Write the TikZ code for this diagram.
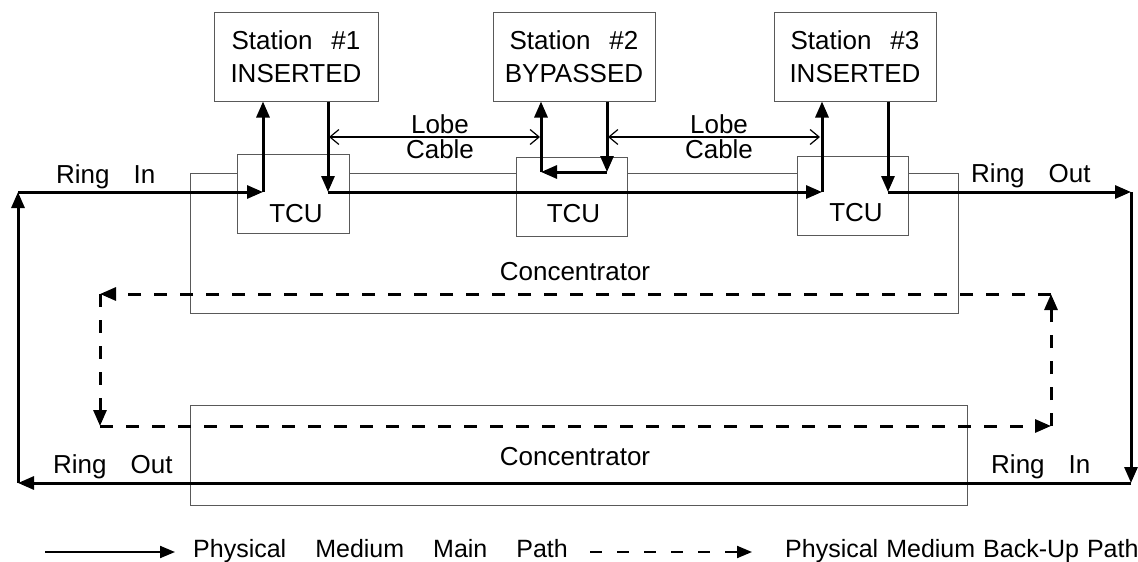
\documentclass[tikz,border=0pt]{standalone}
\usepackage{fontspec}
\setmainfont{Liberation Sans}
\usetikzlibrary{arrows.meta}
\definecolor{edgegray}{gray}{0.35}
\begin{document}
\begin{tikzpicture}[x=1pt,y=-1pt,
  unit/.style={draw=edgegray, line width=1pt, fill=white, inner sep=0pt},
  hub/.style={draw=edgegray, line width=1pt, inner sep=0pt},
  txt/.style={font=\fontsize{26}{33}\selectfont, inner sep=0pt},
  legtxt/.style={font=\fontsize{25}{30}\selectfont, inner sep=0pt, anchor=base west},
  mainpath/.style={line width=3pt, -{Triangle[length=16pt,width=13pt]}},
  backup/.style={line width=3pt, dash pattern=on 13pt off 13pt, -{Triangle[length=16pt,width=13pt]}},
  lobe/.style={line width=1.2pt, {Straight Barb[length=9pt,width=15pt]}-{Straight Barb[length=9pt,width=15pt]}},
]
\useasboundingbox (0,0) rectangle (1138,562);

% concentrators
\node[hub, minimum width=768pt, minimum height=140pt] (conc1) at (574,243) {};
\node[hub, minimum width=777pt, minimum height=100pt] (conc2) at (578.5,455) {};
\node[txt, anchor=base] (conc1t) at (575,280) {Concentrator};
\node[txt, anchor=base] (conc2t) at (575,465) {Concentrator};

% trunk coupling units
\node[unit, minimum width=112pt, minimum height=79pt] (tcu1) at (293,193.5) {};
\node[unit, minimum width=111pt, minimum height=79pt] (tcu2) at (571.5,196.5) {};
\node[unit, minimum width=111pt, minimum height=79pt] (tcu3) at (852.5,195.5) {};
\node[txt, anchor=base] (tcu1t) at (296,222) {TCU};
\node[txt, anchor=base] (tcu2t) at (573.5,222) {TCU};
\node[txt, anchor=base] (tcu3t) at (856,221) {TCU};

% stations
\node[unit, txt, draw=edgegray, line width=1pt, minimum width=164pt, minimum height=89pt, align=center] (st1) at (296,56.5) {Station\hspace{19pt}\#1\\INSERTED};
\node[unit, txt, draw=edgegray, line width=1pt, minimum width=162pt, minimum height=89pt, align=center] (st2) at (574,56.5) {Station\hspace{19pt}\#2\\BYPASSED};
\node[unit, txt, draw=edgegray, line width=1pt, minimum width=162pt, minimum height=89pt, align=center] (st3) at (855,56.5) {Station\hspace{19pt}\#3\\INSERTED};

% ring corner and lobe points
\coordinate (rtl) at (18,192);
\coordinate (rtr) at (1131,192);
\coordinate (rbr) at (1131,483);
\coordinate (rbl) at (18,483);
\coordinate (a1) at (263,192);
\coordinate (b1) at (328,192);
\coordinate (a2) at (541,172);
\coordinate (b2) at (607,172);
\coordinate (a3) at (822,192);
\coordinate (b3) at (888,192);

% main ring path
\draw[mainpath] (rtl) -- (a1);
\draw[mainpath] (a1) -- (a1 |- st1.south);
\draw[mainpath] (b1 |- st1.south) -- (b1);
\draw[mainpath] (b1) -- (a3);
\draw[mainpath] (a3) -- (a3 |- st3.south);
\draw[mainpath] (b3 |- st3.south) -- (b3);
\draw[mainpath] (b3) -- (rtr);
\draw[mainpath] (rtr) -- (rbr);
\draw[mainpath] (rbr) -- (rbl);
\draw[mainpath] (rbl) -- (rtl);

% bypassed station loop
\draw[mainpath] (b2 |- st2.south) -- (b2);
\draw[mainpath] (b2) -- (a2);
\draw[mainpath] (a2) -- (a2 |- st2.south);

% back-up path
\coordinate (dtl) at (100,294);
\coordinate (dtr) at (1051,294);
\coordinate (dbl) at (100,426);
\coordinate (dbr) at (1051,426);
\draw[backup] (dbl) -- (dbr);
\draw[backup] (dbr) -- (dtr);
\draw[backup] (dtr) -- (dtl);
\draw[backup] (dtl) -- (dbl);

% lobe cables
\coordinate (lc1a) at (329,137);
\coordinate (lc1b) at (540,137);
\coordinate (lc2a) at (608,137);
\coordinate (lc2b) at (820,137);
\draw[lobe] (lc1a) -- (lc1b);
\draw[lobe] (lc2a) -- (lc2b);
\node[txt, anchor=base, fill=white, inner xsep=3pt] (lobe1) at (440,133) {Lobe};
\node[txt, anchor=base] (cable1) at (440,158) {Cable};
\node[txt, anchor=base, fill=white, inner xsep=3pt] (lobe2) at (719,133) {Lobe};
\node[txt, anchor=base] (cable2) at (719,158) {Cable};

% ring labels
\node[txt, anchor=base west] (ringin1) at (56,183) {Ring\hspace{24pt}In};
\node[txt, anchor=base west] (ringout1) at (971,182) {Ring\hspace{24pt}Out};
\node[txt, anchor=base west] (ringout2) at (53,473) {Ring\hspace{24pt}Out};
\node[txt, anchor=base west] (ringin2) at (991,473) {Ring\hspace{24pt}In};

% legend
\coordinate (l1a) at (45,552);
\coordinate (l1b) at (175,552);
\coordinate (l2a) at (590,552);
\coordinate (l2b) at (752,552);
\draw[line width=2pt, -{Triangle[length=15pt,width=12pt]}] (l1a) -- (l1b);
\draw[line width=2pt, dash pattern=on 12pt off 15pt, -{Triangle[length=15pt,width=12pt]}] (l2a) -- (l2b);
\node[legtxt] (leg1) at (193,557) {Physical\hspace{29pt}Medium\hspace{29pt}Main\hspace{29pt}Path};
\node[legtxt] (leg2) at (785,557) {Physical\hspace{8pt}Medium\hspace{8pt}Back-Up\hspace{8pt}Path};
\end{tikzpicture}
\end{document}
